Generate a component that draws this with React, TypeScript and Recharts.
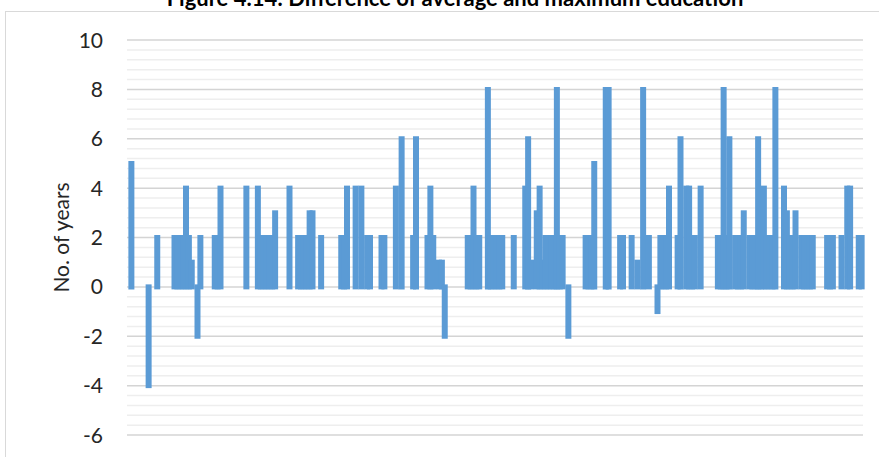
import React from 'react';
import { BarChart, Bar, XAxis, YAxis, CartesianGrid } from 'recharts';

const chartTitle = 'Figure 4.14: Difference of average and maximum education';
const yAxisTitle = 'No. of years';

// one category per household (256 households)
const households: string[] = Array.from({ length: 256 }, (_, i) => `HH${i + 1}`);

// difference (years) per household; 0 = no visible bar
const diffValues: number[] = [
  0, 5, 0, 0, 0, 0, 0, -4, 0, 0, 2, 0, 0, 0, 0, 0,
  2, 2, 2, 2, 4, 2, 1, 0, -2, 2, 0, 0, 0, 0, 2, 2,
  4, 0, 0, 0, 0, 0, 0, 0, 0, 4, 0, 0, 0, 4, 2, 2,
  2, 2, 2, 3, 0, 0, 0, 0, 4, 0, 0, 2, 2, 2, 2, 3,
  3, 0, 0, 2, 0, 0, 0, 0, 0, 0, 2, 2, 4, 0, 0, 4,
  0, 4, 0, 2, 2, 0, 0, 0, 2, 2, 0, 0, 0, 4, 0, 6,
  0, 0, 0, 2, 6, 0, 0, 0, 2, 4, 2, 0, 1, 1, -2, 0,
  0, 0, 0, 0, 0, 0, 2, 2, 4, 2, 2, 0, 0, 8, 2, 2,
  2, 2, 2, 0, 0, 0, 2, 0, 0, 0, 4, 6, 1, 0, 3, 4,
  1, 2, 2, 2, 2, 8, 2, 2, 0, -2, 0, 0, 0, 0, 0, 2,
  2, 2, 5, 0, 0, 0, 8, 8, 0, 0, 0, 2, 2, 0, 0, 2,
  0, 1, 0, 8, 0, 2, 0, 0, -1, 2, 2, 2, 4, 0, 0, 2,
  6, 0, 4, 4, 2, 2, 0, 4, 0, 0, 0, 0, 0, 2, 2, 8,
  2, 6, 0, 2, 2, 2, 3, 0, 2, 2, 2, 6, 2, 4, 2, 2,
  2, 8, 0, 0, 4, 3, 2, 2, 3, 0, 2, 2, 2, 2, 2, 0,
  0, 0, 0, 2, 2, 2, 0, 0, 2, 0, 4, 4, 0, 0, 2, 2,
];

// labelled (major) ticks and all gridline positions (every 0.4)
const majorTicks: number[] = [-6, -4, -2, 0, 2, 4, 6, 8, 10];
const gridTicks: number[] = [
  -6, -5.6, -5.2, -4.8, -4.4, -4, -3.6, -3.2, -2.8, -2.4, -2, -1.6, -1.2, -0.8, -0.4,
  0, 0.4, 0.8, 1.2, 1.6, 2, 2.4, 2.8, 3.2, 3.6, 4, 4.4, 4.8, 5.2, 5.6, 6, 6.4, 6.8,
  7.2, 7.6, 8, 8.4, 8.8, 9.2, 9.6, 10,
];

const data = households.map((h, i) => ({ name: h, diff: diffValues[i] }));

const FONT = 'Lato, "Liberation Sans", sans-serif';

const YTick = (props: any) => {
  const { x, y, payload } = props;
  const v = Math.round(payload.value * 10) / 10;
  if (!majorTicks.includes(v)) return <g />;
  return (
    <text x={x} y={y} dy="0.36em" textAnchor="end" fontFamily={FONT} fontSize={21} fill="#262626">
      {v}
    </text>
  );
};

const YTitle = (props: any) => {
  const vb = props.viewBox || { x: 0, y: 0, width: 0, height: 0 };
  const cx = vb.x + 61;
  const cy = vb.y + vb.height / 2;
  return (
    <text
      x={cx}
      y={cy}
      dy="0.36em"
      textAnchor="middle"
      transform={`rotate(-90 ${cx} ${cy})`}
      fontFamily={FONT}
      fontSize={21}
      fill="#262626"
    >
      {yAxisTitle}
    </text>
  );
};

const GridLine = (props: any) => {
  const { x1, y1, x2, y2, index } = props;
  const major = index % 5 === 0;
  return (
    <line
      x1={x1}
      y1={y1}
      x2={x2}
      y2={y2}
      stroke={major ? '#d4d4d4' : '#eeeeee'}
      strokeWidth={1.5}
      fill="none"
    />
  );
};

export default function App() {
  return (
    <div style={{ position: 'absolute', left: 0, top: 0, width: 879, height: 457, background: '#ffffff', overflow: 'hidden' }}>
      <BarChart
        width={879}
        height={457}
        data={data}
        margin={{ top: 40, right: 16, bottom: 22, left: 0 }}
        barCategoryGap={0}
      >
        <CartesianGrid vertical={false} horizontal={(p: any) => <GridLine {...p} />} />
        <XAxis dataKey="name" type="category" hide height={0} />
        <YAxis
          type="number"
          domain={[-6, 10]}
          ticks={gridTicks}
          interval={0}
          width={127}
          axisLine={false}
          tickLine={false}
          tickSize={0}
          tickMargin={24}
          tick={<YTick />}
          label={<YTitle />}
        />
        <Bar
          dataKey="diff"
          barSize={1}
          fill="#5B9BD5"
          stroke="#5B9BD5"
          strokeWidth={5}
          isAnimationActive={false}
        />
      </BarChart>
      <svg
        width={879}
        height={457}
        style={{ position: 'absolute', left: 0, top: 0, pointerEvents: 'none' }}
      >
        <rect x={5.5} y={11.5} width={900} height={500} fill="none" stroke="#d9d9d9" strokeWidth={1} />
        <text x={455} y={6} textAnchor="middle" fontFamily={FONT} fontWeight={700} fontSize={22} fill="#000000">
          {chartTitle}
        </text>
      </svg>
    </div>
  );
}
